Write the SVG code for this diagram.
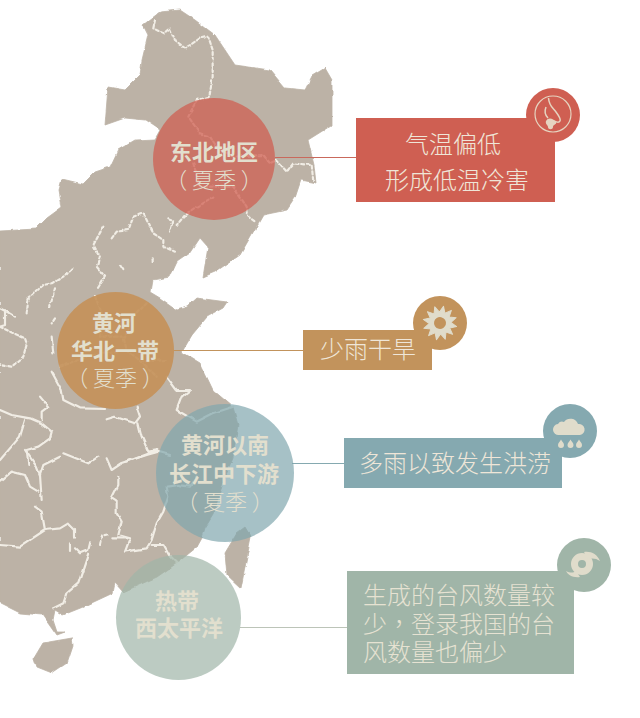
<svg xmlns="http://www.w3.org/2000/svg" width="640" height="718" viewBox="0 0 640 718">
<defs>
<filter id="rough" x="-2%" y="-2%" width="104%" height="104%">
<feTurbulence type="fractalNoise" baseFrequency=".09" numOctaves="2" seed="4"/>
<feDisplacementMap in="SourceGraphic" scale="3.500" xChannelSelector="R" yChannelSelector="G"/>
<feGaussianBlur stdDeviation=".45"/>
</filter>
</defs>
<style>
text{font-family:"Noto Sans CJK SC","Noto Sans",sans-serif}
.land{fill:#bcb2a6;stroke:#bcb2a6;stroke-width:.8;stroke-linejoin:round}
.dash{fill:none;stroke:#f1ede5;stroke-width:6.500;stroke-dasharray:9 8;stroke-linecap:round;stroke-linejoin:round}
.solid{fill:none;stroke:#f1ede5;stroke-width:6.500;stroke-linecap:round;stroke-linejoin:round}
.t{font-size:22px;font-weight:700;fill:#e2dfce;text-anchor:middle}
.s{font-size:22px;font-weight:300;fill:#e2dfce;text-anchor:middle}
.b{font-size:24px;font-weight:300;fill:#efe6d8;text-anchor:middle}
.l{font-size:24px;font-weight:300;fill:#e6e2d2}
.ink{fill:#e0dccb}
.line{stroke-width:1;fill:none}
</style>
<g id="map" filter="url(#rough)">
<path class="land" d="M0,231 L36,229 47,218 62,207 59,190 62,179 83,184 95,172 110,167 118,150 135,140 155,139 160,130 145,120 125,118 105,125 108,87 125,90 140,75 142,60 148,35 143,25 160,12 180,10 195,20 215,35 235,65 270,70 285,88 305,90 312,76 325,68 332,80 332,125 308,140 314,165 316,183 301,180 295,198 287,210 263,215 240,255 215,272 203,277 208,247 200,238 190,253 177,262 170,277 152,280 150,292 160,298 177,310 187,307 197,298 227,302 223,308 207,317 192,335 182,352 200,363 213,390 233,407 238,425 233,457 223,483 213,515 205,528 202,538 197,547 177,563 157,577 123,592 115,583 113,593 83,607 63,615 55,610 53,620 57,632 65,632 57,635 50,625 43,615 20,613 0,603 Z"/>
<path class="land" d="M43,643 L72,638 73,645 67,663 52,673 37,667 34,658 Z"/>
<path class="land" d="M245,527 L251,537 247,557 241,588 227,575 225,553 237,533 Z"/>
<g transform="scale(.33333)">
<path class="dash" d="M465,60 460,85 490,100 510,85 525,120 555,145 600,115 625,110 638,150 638,230 628,290 590,300 565,350 600,400 630,410 650,440 700,470 790,465 810,490 830,480 860,515 880,490 935,495 940,545"/>
<path class="dash" d="M580,490 600,560 700,560 740,620 745,650 765,665"/>
<path class="dash" d="M640,590 590,620 560,640 530,675"/>
<path class="dash" d="M505,655 520,660 510,695"/>
<path class="dash" d="M310,680 280,735 300,770 290,800 315,830 290,870"/>
<path class="dash" d="M335,715 350,695 385,690 400,650 430,640 460,700 490,720 490,740 525,755"/>
<path class="solid" d="M360,795 370,810"/>
<path class="dash" d="M455,775 455,790"/>
<path class="dash" d="M215,805 190,830 155,850 130,855 85,895"/>
</g>
<g transform="translate(0,220) scale(.33333)">
<path class="dash" d="M285,230 310,290 300,350 370,350 380,390 430,430 470,470 M500,420 430,425 M180,440 280,405 360,395 M440,250 390,300 375,350"/>
<path class="solid" d="M500,470 530,510 570,510 545,530 530,570 590,605 640,580 700,560"/>
<path class="dash" d="M85,240 80,280 M165,205 150,260 M165,295 155,310"/>
<path class="solid" d="M155,350 160,400 M155,455 185,510 190,540 240,565 315,567 M410,560 420,590 405,610 345,590 320,598"/>
<path class="solid" d="M0,265 20,275 45,290 M15,270 15,315 0,320"/>
<path class="dash" d="M0,320 30,335 75,355 80,370 70,410 35,440 0,435"/>
<path class="solid" d="M120,530 145,560 125,575 125,600"/>
<path class="solid" d="M0,570 35,585 90,595 125,610 155,635 150,655 115,680 80,690 85,735"/>
<path class="solid" d="M75,600 60,650 0,720"/>
<path class="solid" d="M415,610 425,650 445,695 475,690 380,725"/>
</g>
<g transform="translate(0,450) scale(.33333)">
<path class="solid" d="M75,0 110,50 120,75 125,150 M120,75 130,45 180,20 M190,10 265,40 295,20 M320,25 335,60 365,40 440,15 475,5 510,15"/>
<path class="solid" d="M355,80 355,105 335,145 350,155 350,190 365,215 355,255 390,265 375,305 440,295 455,270 470,220 490,185 505,140 500,110 535,105 570,110 590,80"/>
<path class="solid" d="M0,95 35,65 75,75 90,110 115,125 M105,170 125,185 135,240 60,290 0,285 M135,240 180,235 205,220 225,240 225,260"/>
<path class="solid" d="M210,280 210,300 M225,295 240,310 265,300 270,280 M265,310 235,400 200,430 190,460 160,475"/>
<path class="dash" d="M300,285 305,260 330,255"/>
<path class="solid" d="M340,265 380,265 M455,285 490,285 510,320 530,340"/>
</g>
</g>
<g id="connectors">
<path class="line" stroke="#c9695c" d="M275,157.500H356"/>
<path class="line" stroke="#c2935c" d="M174,350.500H303"/>
<path class="line" stroke="#85a9b0" d="M292,463.500H344"/>
<path class="line" stroke="#bcc4b8" d="M240,627.500H347"/>
</g>
<g id="region-northeast">
<circle cx="214" cy="159" r="61" fill="#cf5f52" fill-opacity=".75"/>
<text class="t" x="214" y="160">东北地区</text>
<text class="s" x="214" y="188">（ 夏季 ）</text>
</g>
<g id="region-north">
<circle cx="115.500" cy="350.500" r="58.500" fill="#c4915a" fill-opacity=".92"/>
<text class="t" x="114" y="331">黄河</text>
<text class="t" x="115" y="359">华北一带</text>
<text class="s" x="115" y="386">（ 夏季 ）</text>
</g>
<g id="region-yangtze">
<circle cx="225" cy="473" r="69" fill="#80a6ae" fill-opacity=".7"/>
<text class="t" x="225" y="453">黄河以南</text>
<text class="t" x="224" y="482">长江中下游</text>
<text class="s" x="225" y="510">（ 夏季 ）</text>
</g>
<g id="region-pacific">
<circle cx="178.500" cy="617.500" r="62.500" fill="#9fb5a8" fill-opacity=".7"/>
<text class="t" x="177" y="609">热带</text>
<text class="t" x="179" y="636">西太平洋</text>
</g>
<g id="effect-cold">
<circle cx="553" cy="115" r="27" fill="#cf5f52"/>
<rect x="356" y="118" width="199" height="84" fill="#cf5f52"/>
<circle cx="553" cy="114" r="18" fill="none" stroke="#e6d4c0" stroke-width="1.200"/>
<path fill="none" stroke="#e6d4c0" stroke-width="1.500" d="M548.500,98C549,106 553,108 556,112C559,116 561,119 560,121C559,123 556,122 554,121M546,107C544,112 546,116 548,118"/>
<path fill="#e6d4c0" d="M546,121C548,117 553,118 556,122C557,125 553,124 553,127C553,130 548,130 548,127C548,125 545,124 546,121Z"/>
<text class="b" x="453" y="153">气温偏低</text>
<text class="b" x="457" y="189">形成低温冷害</text>
</g>
<g id="effect-drought">
<circle cx="440" cy="323" r="27" fill="#c2935c"/>
<rect x="303" y="330" width="129" height="40" fill="#c2935c"/>
<g transform="translate(440,323) rotate(12)">
<polygon class="ink" stroke="#e0dccb" stroke-width="1" stroke-linejoin="round" points="17,0 10.500,2.800 14.700,8.500 7.700,7.700 8.500,14.700 2.800,10.500 0,17 -2.800,10.500 -8.500,14.700 -7.700,7.700 -14.700,8.500 -10.500,2.800 -17,0 -10.500,-2.800 -14.700,-8.500 -7.700,-7.700 -8.500,-14.700 -2.800,-10.500 0,-17 2.800,-10.500 8.500,-14.700 7.700,-7.700 14.700,-8.500 10.500,-2.800"/>
<circle r="6" fill="#c2935c"/>
</g>
<text class="b" x="368" y="358">少雨干旱</text>
</g>
<g id="effect-flood">
<circle cx="570" cy="431" r="27" fill="#85a9b0"/>
<rect x="344" y="438" width="218" height="50" fill="#85a9b0"/>
<path class="ink" d="M559,435A5.500,5.500 0 0 1 558,424A5,5 0 0 1 564,422A8,8 0 0 1 578,424A5.500,5.500 0 0 1 580,435Z"/>
<path class="ink" d="M561,439.500C562,441.500 564,443 564,445A3,3 0 0 1 558,445C558,443 560,441.500 561,439.500Z"/>
<path class="ink" d="M570.500,439.500C571.500,441.500 573.500,443 573.500,445A3,3 0 0 1 567.500,445C567.500,443 569.500,441.500 570.500,439.500Z"/>
<path class="ink" d="M579,439.500C580,441.500 582,443 582,445A3,3 0 0 1 576,445C576,443 578,441.500 579,439.500Z"/>
<text class="b" x="455" y="472">多雨以致发生洪涝</text>
</g>
<g id="effect-typhoon">
<circle cx="584" cy="565" r="27" fill="#a0b5a8"/>
<rect x="347" y="571" width="227" height="103" fill="#a0b5a8"/>
<circle cx="582" cy="564" r="7.500" fill="none" stroke="#e0dccb" stroke-width="7"/>
<path class="ink" d="M584,552C591,551 597,554 600,561C596,558 592,558 588,559Z"/>
<path class="ink" d="M580,577C573,578 568,575 566,571C570,573 573,573 576,571Z"/>
<text class="l" x="363" y="604">生成的台风数量较</text>
<text class="l" x="363" y="633">少<tspan font-family="Noto Sans CJK TC">，</tspan>登录我国的台</text>
<text class="l" x="363" y="661">风数量也偏少</text>
</g>
</svg>
